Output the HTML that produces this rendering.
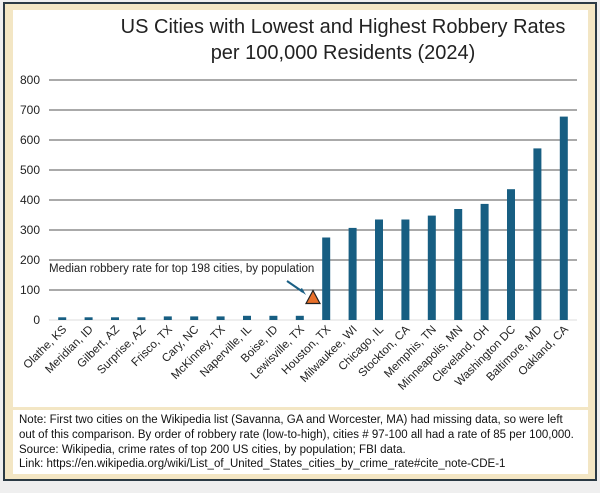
<!DOCTYPE html>
<html><head><meta charset="utf-8"><style>
body{margin:0;width:600px;height:488px;background:#efefef;overflow:hidden;font-family:"Liberation Sans",sans-serif;}
</style></head><body>
<svg width="600" height="488" xmlns="http://www.w3.org/2000/svg">
<rect x="4" y="3" width="592" height="477" fill="#f3e6c4" stroke="#2b3a44" stroke-width="2"/>
<rect x="13" y="10" width="575" height="397" fill="#fff"/>
<rect x="13" y="410" width="575" height="64" fill="#fff"/>
<text x="343" y="33" font-size="20" text-anchor="middle" fill="#222">US Cities with Lowest and Highest Robbery Rates</text>
<text x="343" y="59" font-size="20" text-anchor="middle" fill="#222">per 100,000 Residents (2024)</text>
<g id="grid"></g><g id="bars"></g><g id="xl"></g>
<text x="49" y="272" font-size="11.5" fill="#222">Median robbery rate for top 198 cities, by population</text>
<line x1="287" y1="281" x2="303" y2="292" stroke="#1a5f84" stroke-width="2"/>
<polygon points="306,295 299,290 302,288" fill="#1a5f84"/>
<g font-size="11.5" fill="#111">
<text x="19" y="423">Note: First two cities on the Wikipedia list (Savanna, GA and Worcester, MA) had missing data, so were left</text>
<text x="19" y="438">out of this comparison. By order of robbery rate (low-to-high), cities # 97-100 all had a rate of 85 per 100,000.</text>
<text x="19" y="453">Source: Wikipedia, crime rates of top 200 US cities, by population; FBI data.</text>
<text x="19" y="467">Link: https://en.wikipedia.org/wiki/List_of_United_States_cities_by_crime_rate#cite_note-CDE-1</text>
</g>
</svg>
<script>
const categories=["Olathe, KS","Meridian, ID","Gilbert, AZ","Surprise, AZ","Frisco, TX","Cary, NC","McKinney, TX","Naperville, IL","Boise, ID","Lewisville, TX","Houston, TX","Milwaukee, WI","Chicago, IL","Stockton, CA","Memphis, TN","Minneapolis, MN","Cleveland, OH","Washington DC","Baltimore, MD","Oakland, CA"];
const values=[9,9,9,9,12,12,12,14,14,14,275,307,335,335,348,370,387,436,572,678];
const medianValue=85;
const yTicks=[0,100,200,300,400,500,600,700,800];
const NS="http://www.w3.org/2000/svg";
const x0=49,x1=577,yB=320,yT=80,band=(x1-x0)/categories.length;
const y=v=>yB-(v/800)*(yB-yT);
const cx=i=>x0+band*(i+0.5);
function mk(t,a,p){const e=document.createElementNS(NS,t);for(const k in a)e.setAttribute(k,a[k]);p.appendChild(e);return e;}
const g=document.getElementById('grid');
yTicks.forEach(t=>{
 const l=mk('line',{x1:x0,x2:x1,y1:y(t),y2:y(t),stroke:t===0?'#ddd':'#555','stroke-width':1},g);
 
 
 const tx=mk('text',{x:40,y:y(t)+4,'font-size':12,'text-anchor':'end',fill:'#222'},g);
 tx.textContent=t;
 
 
});
const b=document.getElementById('bars'),xl=document.getElementById('xl');
categories.forEach((c,i)=>{
 const r=mk('rect',{x:cx(i)-4,y:y(values[i]),width:8,height:yB-y(values[i]),fill:'#175e82'},b);
 
 
 const t=mk('text',{transform:`translate(${cx(i)+5},${yB+10}) rotate(-45)`,'font-size':11.5,'text-anchor':'end',fill:'#222'},xl);
 t.textContent=c;
 
 
});
const mx=x0+band*10,my=y(medianValue)+3;
const tri=mk('polygon',{points:`${mx},${my-7} ${mx-7},${my+6} ${mx+7},${my+6}`,fill:'#e8702a',stroke:'#222','stroke-width':1.2},b);


</script>
</body></html>
